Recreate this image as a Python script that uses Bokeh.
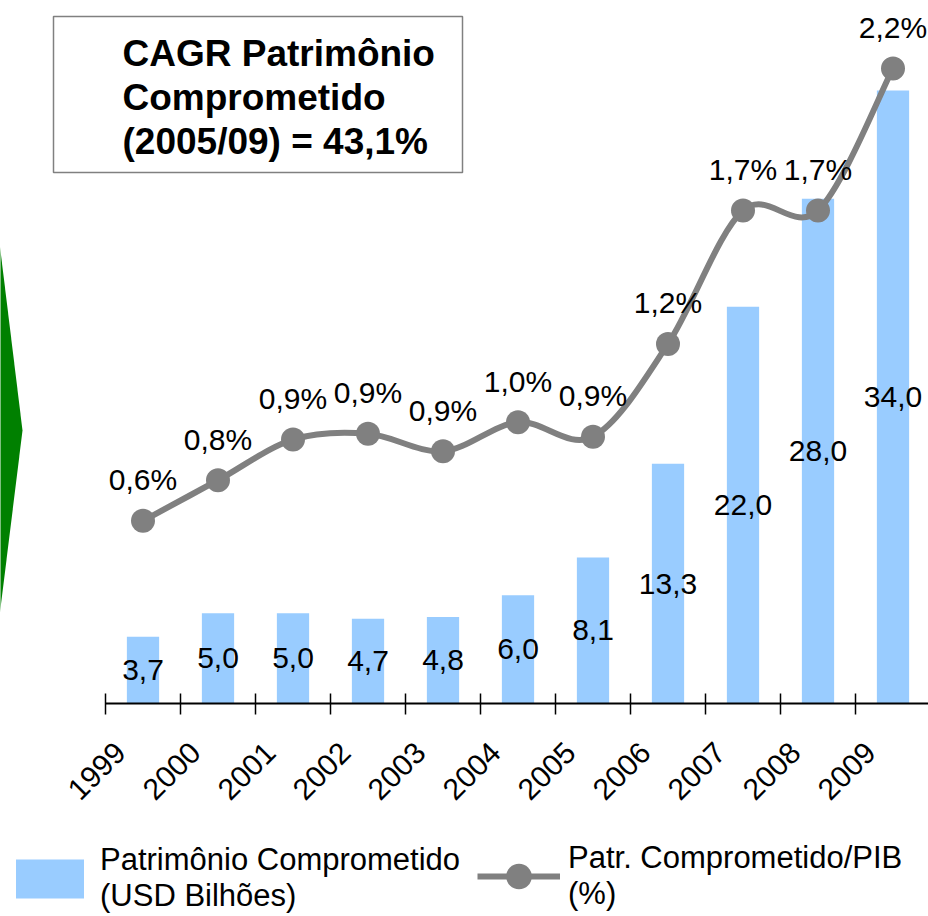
import math
from bokeh.plotting import figure
from bokeh.models import (Range1d, LinearAxis, FixedTicker, Legend, LegendItem,
                          CustomJSTickFormatter)
from bokeh.core.properties import value
from bokeh.embed import file_html
from bokeh.resources import INLINE

# ---------------- data ----------------
years = ["1999", "2000", "2001", "2002", "2003", "2004", "2005", "2006", "2007", "2008", "2009"]
patrimonio = [3.7, 5.0, 5.0, 4.7, 4.8, 6.0, 8.1, 13.3, 22.0, 28.0, 34.0]          # USD bilhões
patr_pib = [0.63, 0.77, 0.91, 0.93, 0.87, 0.97, 0.92, 1.24, 1.70, 1.70, 2.19]      # % do PIB
cagr_lines = ["CAGR Patrimônio", "Comprometido", "(2005/09) = 43,1%"]
legend_bar_label = "Patrimônio Comprometido\n(USD Bilhões)"
legend_line_label = "Patr. Comprometido/PIB\n(%)"

# ---------------- layout ----------------
W, H = 928, 916
AX_Y = 703          # pixel row of the category axis (from top)
LEFT = 105          # pixel column of first category boundary
SLOT = 75           # pixels per category
BAR_PX = 18.03      # pixels per USD bilhão
PCT_PX = 290.0      # pixels per % PIB

FONT = "Liberation Sans"
BLUE = "#99CCFF"
GREY = "#808080"


def X(px):
    return (px - LEFT) / SLOT


def Y(py):
    return (AX_Y - py) / BAR_PX


p = figure(width=W, height=H, output_backend="svg", toolbar_location=None,
           x_range=Range1d(X(0), X(W)), y_range=Range1d(Y(H), Y(0)),
           x_axis_location=None, y_axis_location=None, min_border=0,
           outline_line_color=None, background_fill_color="white",
           border_fill_color="white")
p.xgrid.grid_line_color = None
p.ygrid.grid_line_color = None
p.extra_y_ranges = {"pct": Range1d(-(H - AX_Y) / PCT_PX, AX_Y / PCT_PX)}

n = len(years)
xc = [i + 0.5 for i in range(n)]

# green arrow on the left edge
p.patch(x=[X(-3), X(22), X(-3)], y=[Y(226), Y(430), Y(632)],
        fill_color="#008000", line_color=None)

# CAGR box
p.quad(left=[X(53)], right=[X(462)], top=[Y(16)], bottom=[Y(172)],
       fill_color="white", line_color=GREY, line_width=1.5)
p.text(x=[X(122)] * 3, y=[Y(53), Y(97), Y(141)], text=cagr_lines,
       text_font=value(FONT), text_font_size="37px", text_font_style="bold",
       text_color="black", text_align="left", text_baseline="alphabetic")

# bars
bars = p.vbar(x=xc, top=patrimonio, bottom=0, width=0.43,
              fill_color=BLUE, line_color=None)
p.text(x=xc, y=[v / 2 for v in patrimonio],
       text=[f"{v:.1f}".replace(".", ",") for v in patrimonio],
       text_font=value(FONT), text_font_size="30px", text_color="black",
       text_align="center", text_baseline="middle")

# smoothed line (Catmull-Rom as cubic Bezier segments)
seg = dict(x0=[], y0=[], x1=[], y1=[], cx0=[], cy0=[], cx1=[], cy1=[])
for i in range(n - 1):
    a = max(i - 1, 0)
    d = min(i + 2, n - 1)
    seg["x0"].append(xc[i]); seg["y0"].append(patr_pib[i])
    seg["x1"].append(xc[i + 1]); seg["y1"].append(patr_pib[i + 1])
    seg["cx0"].append(xc[i] + (xc[i + 1] - xc[a]) / 6)
    seg["cy0"].append(patr_pib[i] + (patr_pib[i + 1] - patr_pib[a]) / 6)
    seg["cx1"].append(xc[i + 1] - (xc[d] - xc[i]) / 6)
    seg["cy1"].append(patr_pib[i + 1] - (patr_pib[d] - patr_pib[i]) / 6)
curve = p.bezier(**seg, line_color=GREY, line_width=6, y_range_name="pct")
pts = p.scatter(x=xc, y=patr_pib, size=24, marker="circle", fill_color=GREY,
                line_color=None, y_range_name="pct")
p.text(x=xc, y=patr_pib,
       text=[f"{v:.1f}".replace(".", ",") + "%" for v in patr_pib],
       text_font=value(FONT), text_font_size="30px", text_color="black",
       text_align="center", text_baseline="alphabetic", y_offset=-41,
       y_range_name="pct")

# category axis: boundary ticks
ax_ticks = LinearAxis(fixed_location=0, ticker=FixedTicker(ticks=list(range(n))),
                      bounds=(0, n), axis_line_width=2, axis_line_color="black",
                      major_tick_in=10, major_tick_out=11, major_tick_line_width=1.5,
                      major_tick_line_color="black", minor_tick_line_color=None,
                      formatter=CustomJSTickFormatter(code="return ''"))
p.add_layout(ax_ticks, "below")

# category axis: rotated year labels
ax_labels = LinearAxis(fixed_location=0,
                       ticker=FixedTicker(ticks=[i + 0.2 for i in range(n)]),
                       axis_line_color=None, major_tick_line_color=None,
                       minor_tick_line_color=None, major_tick_in=0, major_tick_out=0,
                       major_label_standoff=44, major_label_orientation=math.pi / 4,
                       major_label_text_font=FONT, major_label_text_font_size="30px",
                       major_label_text_color="black",
                       formatter=CustomJSTickFormatter(args=dict(labels=years),
                                                       code="return labels[Math.floor(tick + 1e-6)]"))
p.add_layout(ax_labels, "below")

# legends
common = dict(orientation="horizontal", background_fill_alpha=0, border_line_color=None,
              padding=0, margin=0, label_text_font=FONT, label_text_font_size="31px",
              label_text_color="black")
leg1 = Legend(items=[LegendItem(label=legend_bar_label, renderers=[bars])],
              location=(7, 2), glyph_width=85, glyph_height=49, label_standoff=8, **common)
leg2 = Legend(items=[LegendItem(label=legend_line_label, renderers=[curve, pts])],
              location=(477, 4), glyph_width=83, glyph_height=64, label_standoff=8, **common)
p.add_layout(leg1)
p.add_layout(leg2)

open("out.html", "w").write(file_html(p, INLINE))
